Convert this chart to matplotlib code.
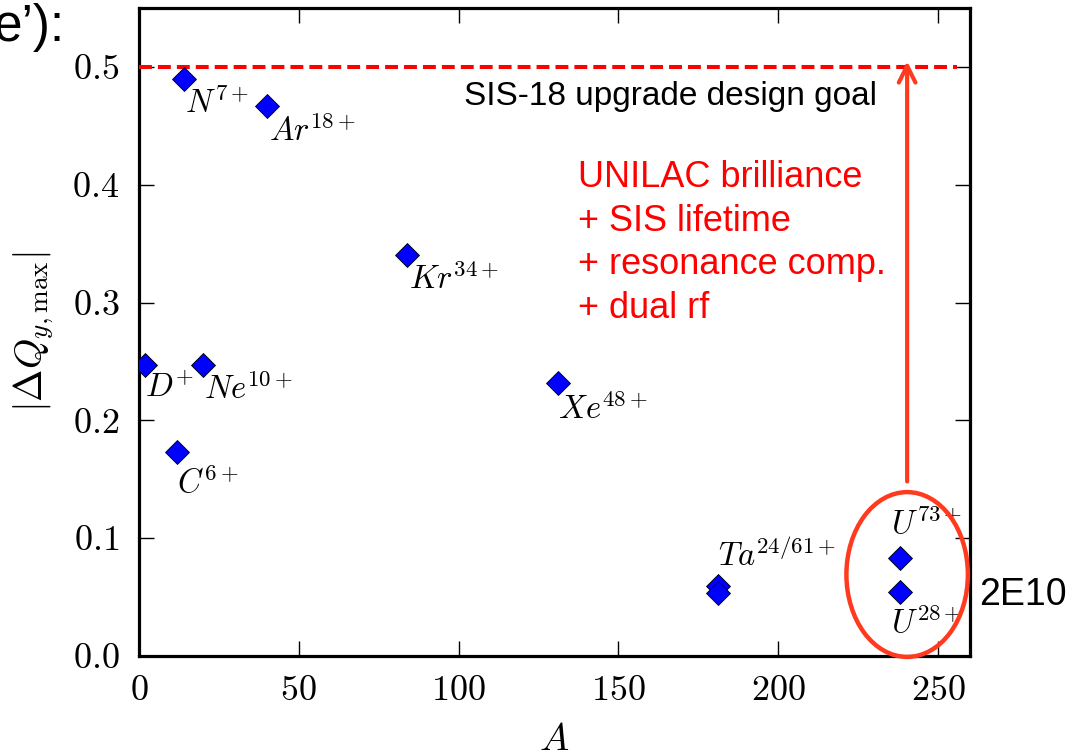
import matplotlib
matplotlib.use('Agg')
import matplotlib.pyplot as plt
from matplotlib.patches import Ellipse

# mass number A and max. vertical tune shift per ion
mass_A = [14, 40, 84, 2, 20, 12, 131, 181, 181, 238, 238]
dQ_max = [0.490, 0.467, 0.340, 0.247, 0.247, 0.173, 0.232, 0.059, 0.053, 0.083, 0.054]
ion_labels = ['N^{7+}', 'Ar^{18+}', 'Kr^{34+}', 'D^{+}', 'Ne^{10+}', 'C^{6+}',
              'Xe^{48+}', 'Ta^{24/61+}', '', 'U^{73+}', 'U^{28+}']

design_goal = 0.5
goal_text = 'SIS-18 upgrade design goal'
measures = ['UNILAC brilliance', '+ SIS lifetime', '+ resonance comp.', '+ dual rf']
x_ticks = [0, 50, 100, 150, 200, 250]
y_ticks = [0.0, 0.1, 0.2, 0.3, 0.4, 0.5]

# label offsets in pixels (dx, dy) and vertical alignment
lab_off = [(1, -8), (2, -8), (2, -7), (0, -7), (1, -7), (0, -13), (0, -10),
           (0, 14), (0, 0), (-9, 18), (-9, -13)]
lab_va = ['top', 'top', 'top', 'top', 'top', 'top', 'top',
          'bottom', 'top', 'bottom', 'top']

plt.rcParams['font.family'] = 'serif'
plt.rcParams['font.serif'] = ['cmr10']
plt.rcParams['mathtext.fontset'] = 'cm'
plt.rcParams['axes.formatter.use_mathtext'] = True

fig = plt.figure(figsize=(10.69, 7.52), dpi=100)
ax = fig.add_axes([0.130, 0.128, 0.7775, 0.861])

px = 72.0 / 100  # pixels -> points
red2 = '#ff3a1e'

ax.plot(mass_A, dQ_max, 'D', color='blue', markeredgecolor='black',
        markeredgewidth=0.6, markersize=12, zorder=5)
for a, q, lab, off, va in zip(mass_A, dQ_max, ion_labels, lab_off, lab_va):
    if lab:
        ax.annotate('$' + lab + '$', (a, q), xytext=(off[0] * px, off[1] * px),
                    textcoords='offset points', ha='left', va=va, fontsize=23.5)

# design goal
ax.plot([0, 256], [design_goal, design_goal], color='red', lw=2.9,
        dashes=(3.2, 1.5), zorder=3)
ax.text(231, design_goal - 0.012, goal_text, ha='right', va='top',
        fontsize=24, family='Liberation Sans')

# measures text
ax.text(137.2, 0.421, '\n'.join(measures), color='red', ha='left', va='top',
        fontsize=26, family='Liberation Sans', linespacing=1.32)

# arrow to the goal
ax.annotate('', xy=(240.3, design_goal + 0.005), xytext=(240.3, 0.148),
            arrowprops=dict(arrowstyle='->', color=red2, lw=3,
                            mutation_scale=30, shrinkA=0, shrinkB=0))

# circle around the uranium points
ell = Ellipse((240.3, 0.069), 38, 0.140, fill=False, edgecolor=red2,
              lw=3.2, clip_on=False, zorder=4)
ax.add_patch(ell)

ax.set_xlim(0, 260)
ax.set_ylim(0, 0.55)
ax.set_xticks(x_ticks)
ax.set_yticks(y_ticks)
ax.set_xticklabels(['$%d$' % t for t in x_ticks])
ax.set_yticklabels(['$%.1f$' % t for t in y_ticks])
ax.tick_params(direction='in', length=11, width=1, labelsize=26, pad=14,
               top=True, right=True)
for sp in ax.spines.values():
    sp.set_linewidth(2.3)

ax.set_xlabel('$A$', fontsize=28, labelpad=11)
ax.set_ylabel(r'$|\Delta Q_{y,\max}|$', fontsize=28, labelpad=12)

fig.text(979 / 1069.0, 1 - 595 / 752.0, '2E10', ha='left', va='center',
         fontsize=27, family='Liberation Sans')
fig.text(-0.006, 1 - 28 / 752.0, 'e\u2019):', ha='left', va='center',
         fontsize=37, family='Liberation Sans')

fig.savefig('out.png', dpi=100)
